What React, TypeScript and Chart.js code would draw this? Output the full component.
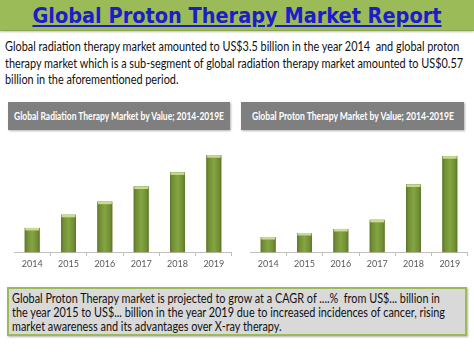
import React, { useEffect, useLayoutEffect, useRef } from "react";
import { Chart, registerables } from "chart.js";
Chart.register(...registerables);

const years = ["2014", "2015", "2016", "2017", "2018", "2019"];
const radiationValues = [24, 37, 50, 65, 79, 96];
const protonValues = [15, 19, 23, 32, 67, 95];
const axisMax = 112;

const introLines = [
  "Global radiation therapy market amounted to US$3.5 billion in the year 2014\u00a0 and global proton",
  "therapy market which is a sub-segment of global radiation therapy market amounted to US$0.57",
  "billion in the aforementioned period.",
];
const outlookLines = [
  "Global Proton Therapy market is projected to grow at a CAGR of ....%\u00a0 from US$... billion in",
  "the year 2015 to US$... billion in the year 2019 due to increased incidences of cancer, rising",
  "market awareness and its advantages over X-ray therapy.",
];

const barShade = {
  id: "barShade",
  afterDatasetsDraw(chart: any) {
    const ctx = chart.ctx;
    chart.data.datasets.forEach((_: any, di: number) => {
      const meta = chart.getDatasetMeta(di);
      meta.data.forEach((el: any) => {
        const { x, y, base, width } = el.getProps(["x", "y", "base", "width"], true);
        const l = x - width / 2;
        const g = ctx.createLinearGradient(l, 0, l + width, 0);
        g.addColorStop(0, "#5c7428");
        g.addColorStop(0.15, "#718d35");
        g.addColorStop(0.5, "#84a542");
        g.addColorStop(0.85, "#718d35");
        g.addColorStop(1, "#5c7428");
        ctx.save();
        ctx.fillStyle = g;
        ctx.fillRect(l, y, width, base - y);
        ctx.fillStyle = "#c7dc91";
        ctx.fillRect(l + 0.5, y, width - 1, 2.5);
        ctx.restore();
      });
    });
  },
};

function BarChart({ values }: { values: number[] }) {
  const ref = useRef<HTMLCanvasElement>(null);
  useEffect(() => {
    const chart = new Chart(ref.current!, {
      type: "bar",
      data: {
        labels: years,
        datasets: [
          {
            data: values,
            backgroundColor: "#76923c",
            categoryPercentage: 1,
            barPercentage: 0.41,
          },
        ],
      },
      options: {
        animation: false,
        responsive: false,
        maintainAspectRatio: false,
        layout: { padding: 0 },
        plugins: { legend: { display: false }, tooltip: { enabled: false }, title: { display: false } },
        scales: {
          x: {
            offset: true,
            grid: { display: true, drawOnChartArea: false, drawTicks: true, tickLength: 4, color: "#bfbfbf", offset: true },
            border: { display: true, color: "#bfbfbf" },
            ticks: { color: "#595959", font: { family: "Lato", size: 9 }, padding: 2 },
          },
          y: { display: false, min: 0, max: axisMax },
        },
      },
      plugins: [barShade],
    });
    return () => chart.destroy();
  }, [values]);
  return <canvas ref={ref} width={218} height={132} style={{ width: 218, height: 132, display: "block" }} />;
}

function FitText({
  lines,
  target,
  style,
}: {
  lines: string[];
  target: number;
  style: React.CSSProperties;
}) {
  const ref = useRef<HTMLDivElement>(null);
  useLayoutEffect(() => {
    const el = ref.current!;
    let w = 0;
    Array.from(el.children).forEach((c: any) => {
      w = Math.max(w, c.getBoundingClientRect().width);
    });
    if (w > 0) el.style.transform = `scaleX(${target / w})`;
  }, [lines, target]);
  return (
    <div ref={ref} style={{ ...style, transformOrigin: "left top", whiteSpace: "nowrap" }}>
      {lines.map((l, i) => (
        <div key={i} style={{ display: "table" }}>
          {l}
        </div>
      ))}
    </div>
  );
}

const bodyFont = "Lato, 'Noto Sans', sans-serif";

function Header({ text, left, width, textWidth }: { text: string; left: number; width: number; textWidth: number }) {
  return (
    <div
      style={{
        position: "absolute",
        top: 102,
        left,
        width,
        height: 28,
        background: "#7f7f7f",
        boxShadow: "1px 1px 2px rgba(0,0,0,0.3)",
      }}
    >
      <FitText
        lines={[text]}
        target={textWidth}
        style={{
          position: "absolute",
          left: (width - textWidth) / 2,
          top: 7,
          color: "#fff",
          fontFamily: bodyFont,
          fontWeight: "bold",
          fontSize: 11,
          lineHeight: "14px",
        }}
      />
    </div>
  );
}

export default function App() {
  useEffect(() => {
    document.body.style.margin = "0";
  }, []);
  return (
    <div style={{ position: "relative", width: 474, height: 355, background: "#fff", overflow: "hidden" }}>
      <div
        style={{
          position: "absolute",
          left: 0,
          top: 0,
          width: 474,
          height: 30,
          background: "#9bbb59",
          borderBottom: "1px solid #8aa54e",
          boxShadow: "0 1px 2px rgba(0,0,0,0.25)",
          display: "flex",
          alignItems: "center",
          justifyContent: "center",
        }}
      >
        <span
          style={{
            fontFamily: "'DejaVu Sans', sans-serif",
            fontStretch: "condensed",
            fontWeight: "bold",
            fontSize: 21.5,
            color: "#1c1cc8",
            textDecoration: "underline",
            whiteSpace: "nowrap",
          }}
        >
          Global Proton Therapy Market Report
        </span>
      </div>
      <FitText
        lines={introLines}
        target={458}
        style={{
          position: "absolute",
          left: 5,
          top: 38,
          fontFamily: bodyFont,
          fontSize: 13.5,
          lineHeight: "16.5px",
          color: "#111",
        }}
      />
      <Header text="Global Radiation Therapy Market by Value; 2014-2019E" left={8} width={222} textWidth={210} />
      <Header text="Global Proton Therapy Market by Value; 2014-2019E" left={241} width={223} textWidth={202} />
      <div style={{ position: "absolute", left: 14, top: 139 }}>
        <BarChart values={radiationValues} />
      </div>
      <div style={{ position: "absolute", left: 250, top: 139 }}>
        <BarChart values={protonValues} />
      </div>
      <div
        style={{
          position: "absolute",
          left: 7,
          top: 287,
          width: 456,
          height: 45,
          background: "#d9d9d9",
          border: "2px solid #9bbb59",
          boxShadow: "1px 1px 2px rgba(0,0,0,0.3)",
        }}
      >
        <FitText
          lines={outlookLines}
          target={433}
          style={{
            position: "absolute",
            left: 3,
            top: 2,
            fontFamily: bodyFont,
            fontSize: 14,
            lineHeight: "14px",
            color: "#111",
          }}
        />
      </div>
    </div>
  );
}
